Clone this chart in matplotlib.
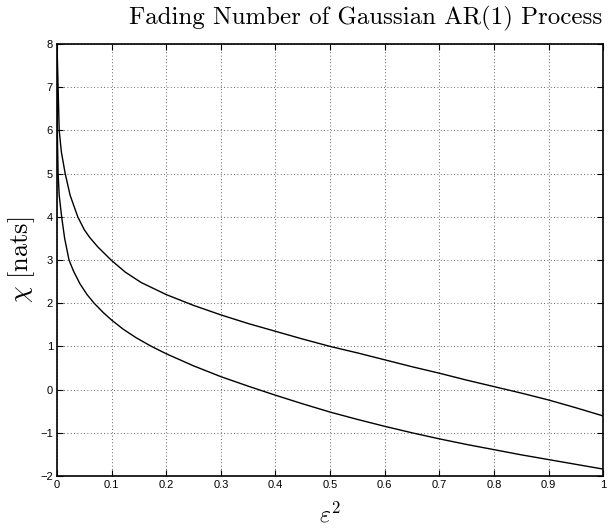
import matplotlib
matplotlib.use("Agg")
import matplotlib.pyplot as plt

# values
eps_upper = [0.0, 0.001, 0.002, 0.004, 0.008, 0.015, 0.024, 0.038, 0.05, 0.06,
             0.075, 0.099, 0.125, 0.154, 0.2, 0.25, 0.3, 0.35, 0.4, 0.45,
             0.5, 0.55, 0.6, 0.65, 0.7, 0.75, 0.8, 0.85, 0.9, 0.95, 1.0]
chi_upper = [8.0, 7.5, 7.0, 6.0, 5.5, 5.0, 4.5, 4.0, 3.7, 3.52,
             3.3, 3.0, 2.72, 2.48, 2.2, 1.95, 1.73, 1.53, 1.35, 1.17,
             1.0, 0.85, 0.69, 0.53, 0.38, 0.22, 0.07, -0.08, -0.24, -0.42, -0.61]

eps_lower = [0.0, 0.0002, 0.0005, 0.002, 0.004, 0.0085, 0.014, 0.022, 0.03, 0.042,
             0.055, 0.068, 0.085, 0.1, 0.121, 0.145, 0.173, 0.2, 0.25, 0.3,
             0.35, 0.4, 0.45, 0.5, 0.55, 0.6, 0.65, 0.7, 0.75, 0.8,
             0.85, 0.9, 0.95, 1.0]
chi_lower = [8.0, 7.0, 6.0, 5.0, 4.5, 4.0, 3.5, 3.0, 2.75, 2.45,
             2.2, 2.0, 1.78, 1.61, 1.4, 1.2, 1.0, 0.83, 0.55, 0.3,
             0.08, -0.13, -0.33, -0.52, -0.69, -0.85, -1.0, -1.14, -1.27, -1.39,
             -1.51, -1.62, -1.73, -1.84]

xticks = [0, 0.1, 0.2, 0.3, 0.4, 0.5, 0.6, 0.7, 0.8, 0.9, 1]
xtick_labels = ['0', '0.1', '0.2', '0.3', '0.4', '0.5', '0.6', '0.7', '0.8', '0.9', '1']
yticks = [-2, -1, 0, 1, 2, 3, 4, 5, 6, 7, 8]

plt.rcParams.update({
    'mathtext.fontset': 'cm',
    'font.family': 'sans-serif',
    'font.sans-serif': ['Liberation Sans', 'DejaVu Sans'],
    'axes.unicode_minus': True,
})

fig = plt.figure(figsize=(6.15, 5.31), dpi=100)
ax = fig.add_axes([0.0927, 0.1036, 0.888, 0.8134])

ax.plot(eps_upper, chi_upper, color='black', linewidth=1.0)
ax.plot(eps_lower, chi_lower, color='black', linewidth=1.0)

ax.set_xlim(0, 1)
ax.set_ylim(-2, 8)
ax.set_xticks(xticks)
ax.set_xticklabels(xtick_labels)
ax.set_yticks(yticks)
ax.tick_params(direction='in', length=4, width=0.8, labelsize=8,
               top=True, right=True, bottom=True, left=True, pad=3)
ax.grid(True, linestyle=(0, (1, 3)), color='black', linewidth=0.6, alpha=0.8)
for sp in ax.spines.values():
    sp.set_linewidth(1.2)

# title sits a bit right of the axes centre in the original
ax.set_title('Fading Number of Gaussian AR(1) Process', x=0.565,
             fontsize=17.9, family='serif', fontname='cmr10', pad=14)
ax.set_xlabel(r'$\varepsilon^2$', fontsize=17, labelpad=9)
ax.set_ylabel(r'$\chi\ \mathrm{[nats]}$', fontsize=19, labelpad=2)

fig.savefig('out.png', dpi=100)
